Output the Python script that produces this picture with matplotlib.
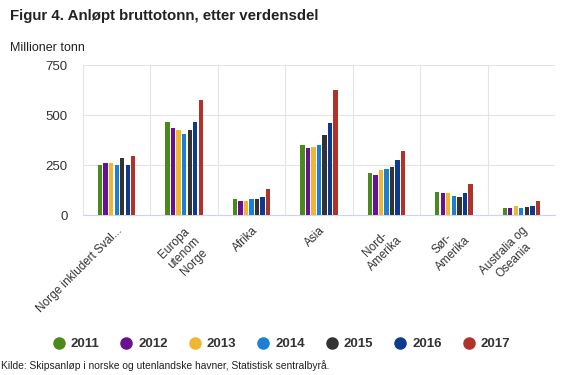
import numpy as np
from matplotlib import pyplot as plt
from matplotlib.lines import Line2D

plt.rcParams["font.family"] = ["Liberation Sans", "DejaVu Sans"]

categories = ["Norge inkludert Sval...", "Europa\nutenom\nNorge", "Afrika", "Asia",
              "Nord-\nAmerika", "Sør-\nAmerika", "Australia og\nOseania"]
years = ["2011", "2012", "2013", "2014", "2015", "2016", "2017"]

v2011 = [250, 463, 78, 348, 210, 117, 37]
v2012 = [260, 433, 68, 335, 202, 112, 37]
v2013 = [260, 423, 68, 338, 225, 112, 43]
v2014 = [250, 407, 78, 348, 230, 93, 33]
v2015 = [283, 425, 78, 398, 238, 88, 38]
v2016 = [250, 467, 92, 460, 277, 112, 47]
v2017 = [293, 575, 130, 623, 320, 155, 72]
series = [v2011, v2012, v2013, v2014, v2015, v2016, v2017]

colors = ["#4a8a1c", "#6b118f", "#efb62f", "#1b80d4", "#333333", "#0c3a8f", "#b03329"]

fig = plt.figure(figsize=(5.63, 3.75), dpi=100)
ax = fig.add_axes([83 / 563, 1 - 215 / 375, 472 / 563, 150 / 375])

x = np.arange(len(categories))
step = 0.082
width = 0.064
for i, vals in enumerate(series):
    ax.bar(x + (i - 3) * step, vals, width=width, color=colors[i], zorder=3)

ax.set_xlim(-0.5, len(categories) - 0.5)
ax.set_ylim(0, 750)
ax.set_yticks([0, 250, 500, 750])
ax.set_yticklabels(["0", "250", "500", "750"], fontsize=9.5, color="#333333")
ax.set_xticks(x)
ax.set_xticklabels(categories, rotation=45, ha="right", rotation_mode="anchor",
                   multialignment="center", fontsize=8.5, color="#333333")
ax.set_xticks(np.arange(len(categories) + 1) - 0.5, minor=True)
ax.tick_params(axis="x", which="major", length=0, pad=7)
ax.tick_params(axis="y", which="major", length=0, pad=11)
ax.tick_params(axis="x", which="minor", length=0)
ax.grid(axis="y", color="#e3e3e8", linewidth=0.8, zorder=0)
ax.grid(axis="x", which="minor", color="#e3e3e8", linewidth=0.8, zorder=0)
for s in ["top", "right", "left"]:
    ax.spines[s].set_visible(False)
ax.spines["bottom"].set_color("#ccd6eb")

fig.text(10 / 563, 1 - 16 / 375, "Figur 4. Anløpt bruttotonn, etter verdensdel",
         fontsize=10.8, fontweight="bold", color="#222222", va="center")
fig.text(10 / 563, 1 - 48 / 375, "Millioner tonn", fontsize=9, color="#222222", va="center")
fig.text(1 / 563, 1 - 366 / 375, "Kilde: Skipsanløp i norske og utenlandske havner, Statistisk sentralbyrå.",
         fontsize=7.4, color="#222222", va="center")

handles = [Line2D([], [], marker="o", linestyle="", markersize=8, color=c) for c in colors]
leg = fig.legend(handles, years, loc="center", bbox_to_anchor=(281 / 563, 1 - 344 / 375), ncol=7,
                 frameon=False, handlelength=1.0, handletextpad=0.4, columnspacing=1.55,
                 prop={"weight": "bold", "size": 9.5})
for t in leg.get_texts():
    t.set_color("#333333")

plt.savefig("out.png", dpi=100)
